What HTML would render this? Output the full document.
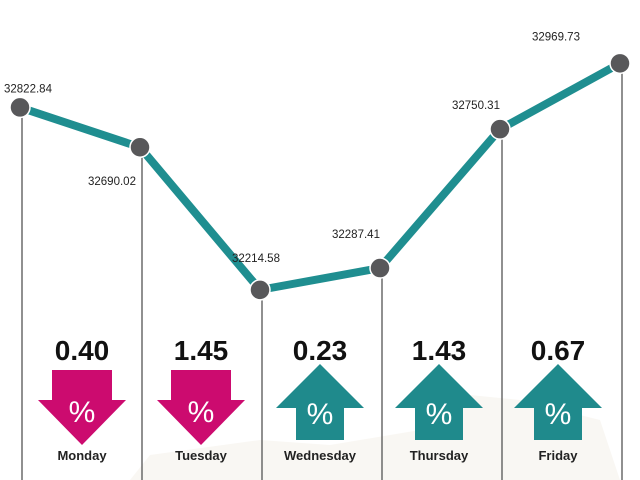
<!DOCTYPE html>
<html><head><meta charset="utf-8"><style>
body{margin:0;background:#fff;}
svg{display:block;font-family:"Liberation Sans",sans-serif;}
</style></head><body>
<svg id="chart" width="640" height="480">
<g id="bg"><rect width="640" height="480" fill="#fff"/>
<path d="M130,480 L150,455 L260,440 L330,445 L420,430 L470,395 L520,400 L600,420 L620,480Z" fill="#f7f4ee" opacity="0.7"/></g>
<g id="drops"></g><g id="line"></g><g id="points"></g><g id="labels"></g><g id="changes"></g>
</svg>
<script>
const days=["Monday","Tuesday","Wednesday","Thursday","Friday"];
const closes=[32822.84,32690.02,32214.58,32287.41,32750.31,32969.73];
const closeLabels=["32822.84","32690.02","32214.58","32287.41","32750.31","32969.73"];
const changes=[0.40,1.45,0.23,1.43,0.67];
const changeLabels=["0.40","1.45","0.23","1.43","0.67"];
const directions=["down","down","up","up","up"];
const NS="http://www.w3.org/2000/svg";
function mk(t,a,p){const e=document.createElementNS(NS,t);for(const k in a)e.setAttribute(k,a[k]);p.appendChild(e);return e;}
const xS=i=>20+i*120;
const yS=v=>167.5+(32622.5-v)*0.3;
const drops=document.getElementById('drops'),line=document.getElementById('line'),pts=document.getElementById('points'),lab=document.getElementById('labels'),ch=document.getElementById('changes');
closes.forEach((v,i)=>{
  const l=mk('line',{x1:xS(i)+2,y1:yS(v),x2:xS(i)+2,y2:480,stroke:'#555','stroke-width':1.3},drops);
  
  
});
const pl=mk('polyline',{points:closes.map((v,i)=>xS(i)+','+yS(v)).join(' '),fill:'none',stroke:'#1f8e90','stroke-width':8,'stroke-linejoin':'round'},line);


const lpos=[[-16,-15],[-52,38],[-28,-28],[-48,-30],[-48,-20],[-88,-23]];
closes.forEach((v,i)=>{
  const c=mk('circle',{cx:xS(i),cy:yS(v),r:10,fill:'#58585a',stroke:'#fff','stroke-width':1.5},pts);
  
  
  const t=mk('text',{x:xS(i)+lpos[i][0],y:yS(v)+lpos[i][1],'font-size':11.5,fill:'#222'},lab);
  t.textContent=closeLabels[i];
  
  
});
changes.forEach((c,i)=>{
  const cx=82+i*119;
  const t=mk('text',{x:cx,y:360,'text-anchor':'middle','font-size':28,'font-weight':'bold',fill:'#111'},ch);
  t.textContent=changeLabels[i];
  
  
  let d,col;
  if(directions[i]==='down'){col='#cc0b6f';d=`M${cx-30},370 L${cx+30},370 L${cx+30},400 L${cx+44},400 L${cx},445 L${cx-44},400 L${cx-30},400Z`;}
  else{col='#1f8a8c';d=`M${cx},364 L${cx+44},408 L${cx+24},408 L${cx+24},440 L${cx-24},440 L${cx-24},408 L${cx-44},408Z`;}
  const a=mk('path',{d:d,fill:col},ch);
  
  
  const p=mk('text',{x:cx,y:directions[i]==='down'?422:424,'text-anchor':'middle','font-size':30,fill:'#fff'},ch);
  p.textContent='%';
  
  
  const dl=mk('text',{x:cx,y:460,'text-anchor':'middle','font-size':13,'font-weight':'bold',fill:'#222'},ch);
  dl.textContent=days[i];
  
  
});
</script>
</body></html>
